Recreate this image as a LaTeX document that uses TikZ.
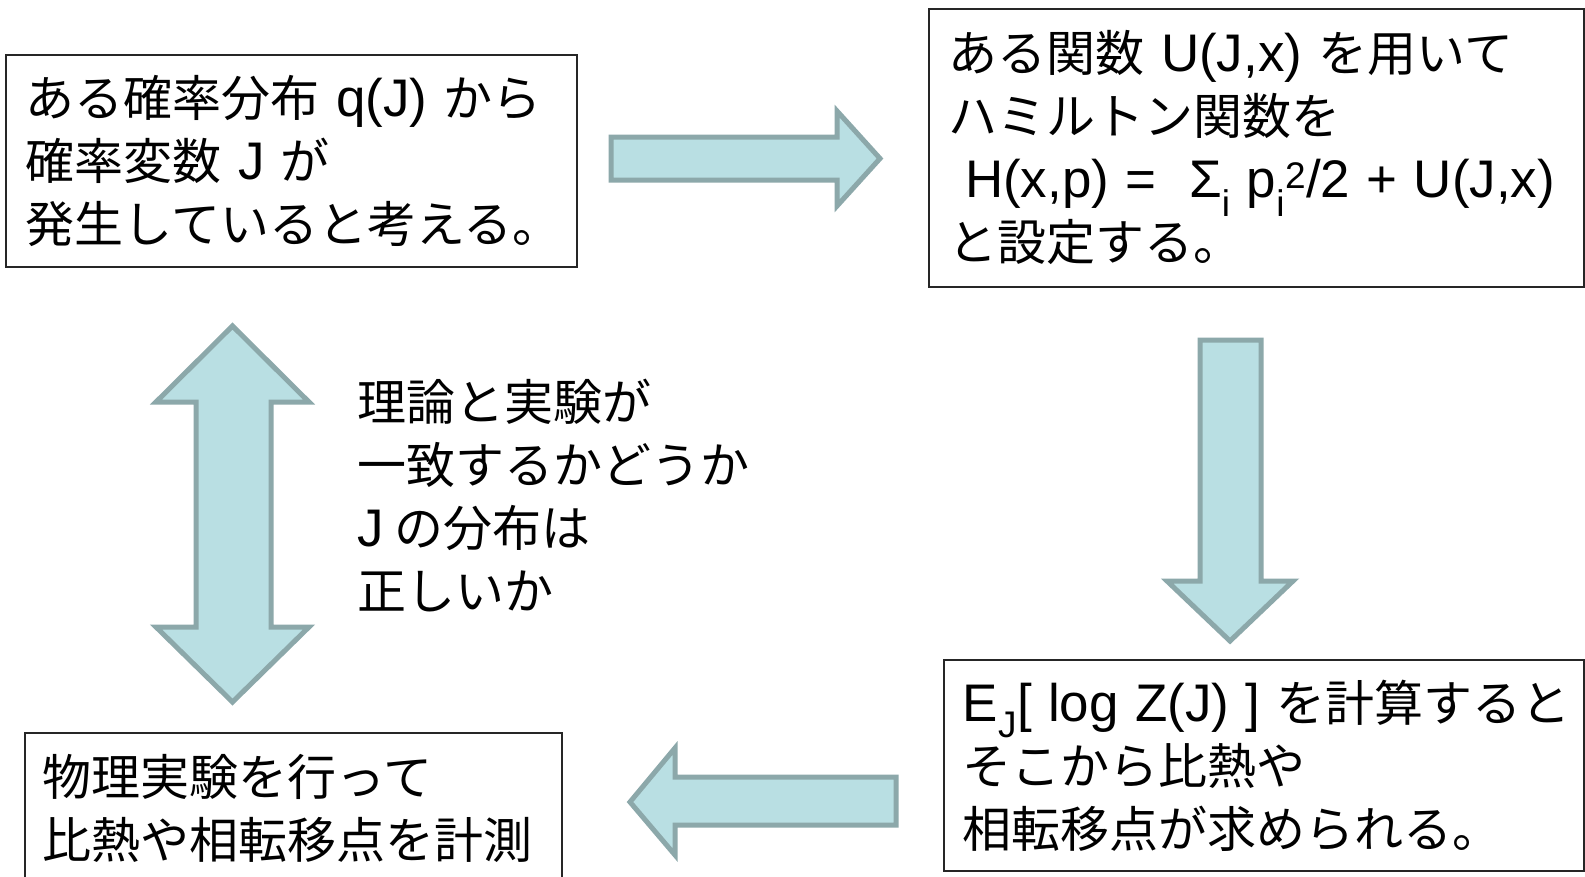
\documentclass[tikz,border=0pt]{standalone}
\usepackage{fontspec}
\setmainfont{Noto Sans CJK JP}
\newfontfamily\latf[Scale=1.08]{Liberation Sans}
\newcommand\lt[1]{{\latf #1}}
\definecolor{arrfill}{HTML}{B9DFE3}
\definecolor{arrline}{HTML}{8CA8AA}
\begin{document}
\begin{tikzpicture}[x=1pt,y=-1pt,
  box/.style={draw=black!85, line width=1.6pt, anchor=north west, align=left,
    inner xsep=20pt, inner ysep=0pt, font=\fontsize{49}{63}\selectfont},
  plain/.style={align=left, inner sep=0pt, font=\fontsize{49}{63}\selectfont},
  blk/.style={fill=arrfill, draw=arrline, line width=5pt, line join=miter}]
\clip (0,0) rectangle (1585,876);
\useasboundingbox (0,0) rectangle (1585,876);
\fill[white] (0,0) rectangle (1585,876);

% boxes
\node[box, minimum width=571pt, minimum height=212pt, text width=531pt] (b1) at (5,54)
  {\mbox{ある確率分布 \lt{q(J)} から}\\\mbox{確率変数 \lt{J} が}\\\mbox{発生していると考える。}};
\node[box, minimum width=655pt, minimum height=278pt, text width=615pt] (b2) at (928,8)
  {\mbox{ある関数 \lt{U(J,x)} を用いて}\\\mbox{ハミルトン関数を}\\
   \mbox{\lt{ H(x,p) =\ \ Σ\textsubscript{i} p\textsubscript{i}\textsuperscript{2}/2 + U(J,x)}}\\\mbox{と設定する。}};
\node[box, minimum width=640pt, minimum height=211pt, text width=602pt, inner xsep=19pt] (b3) at (943,659)
  {\mbox{\lt{E\textsubscript{J}[ log Z(J) ]} を計算すると}\\\mbox{そこから比熱や}\\\mbox{相転移点が求められる。}};
\node[box, minimum width=537pt, minimum height=152pt, text width=501pt, inner xsep=18pt] (b4) at (24,732)
  {\mbox{物理実験を行って}\\\mbox{比熱や相転移点を計測}};

% middle label
\node[plain, anchor=west] (mid) at (357,496)
  {理論と実験が\\一致するかどうか\\\lt{J} の分布は\\正しいか};

% block arrows
\draw[blk] (611,137) -- (837,137) -- (837,111) -- (880,158.5) -- (837,206) -- (837,180) -- (611,180) -- cycle;
\draw[blk] (1200,340) -- (1261,340) -- (1261,581) -- (1293,581) -- (1230,641) -- (1167,581) -- (1200,581) -- cycle;
\draw[blk] (232.5,326) -- (309,402) -- (271,402) -- (271,627) -- (309,627) -- (232.5,702) -- (156,627) -- (196,627) -- (196,402) -- (156,402) -- cycle;
\draw[blk] (630,802) -- (675,748) -- (675,777) -- (896,777) -- (896,825) -- (675,825) -- (675,855) -- cycle;
\end{tikzpicture}
\end{document}
